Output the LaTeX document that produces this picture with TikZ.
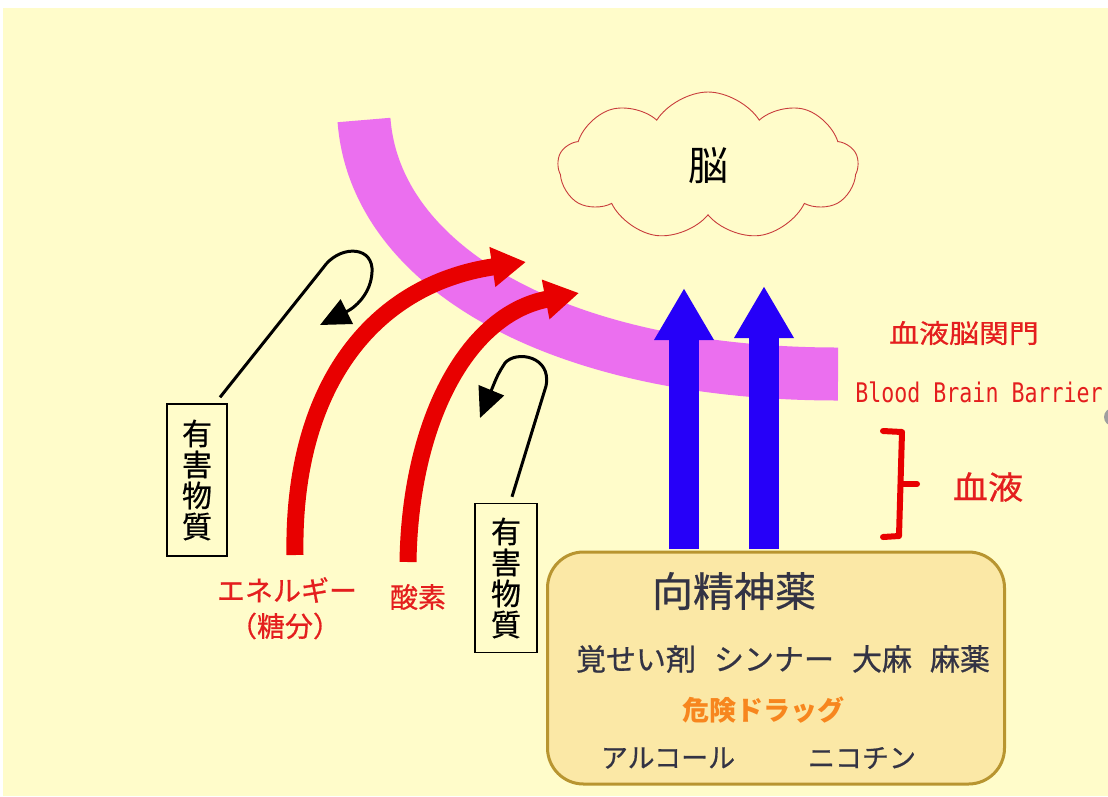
\documentclass[tikz,border=0pt]{standalone}
\usepackage{fontspec}
\usepackage{graphicx}
\usetikzlibrary{arrows.meta,shapes.symbols}
\newfontfamily\cjk{Noto Sans CJK JP}
\newfontfamily\cjkm{Noto Sans CJK JP}[FakeBold=0.6]
\newfontfamily\monofnt{DejaVu Sans Mono}
\definecolor{bgc}{HTML}{FFFCCA}
\definecolor{bandc}{HTML}{EB6FEF}
\definecolor{arrred}{HTML}{E80000}
\definecolor{labred}{HTML}{E41E1E}
\definecolor{arrblue}{HTML}{2600F8}
\definecolor{boxfill}{HTML}{FBE8A6}
\definecolor{boxline}{HTML}{B89530}
\definecolor{darktxt}{HTML}{333344}
\definecolor{orangetxt}{HTML}{F7861E}
\definecolor{cloudline}{HTML}{C83C3C}
\begin{document}
\begin{tikzpicture}[x=1pt,y=-1pt,
  cloudshape/.style={cloud, cloud puffs=9, cloud puff arc=115, aspect=2,
    draw=cloudline, line width=0.9pt, minimum width=300pt, minimum height=148pt,
    inner sep=0pt, font=\cjk\fontsize{40}{44}\selectfont, text=black},
  bluearr/.style={arrblue, line width=30pt, -{Triangle[width=56pt,length=52pt]}},
  redarr/.style={arrred, line width=17pt, -{Triangle[width=38pt,length=34pt]}},
  loopline/.style={black, line width=3pt, -{Triangle[width=27pt,length=30pt]}},
  harm/.style={draw=black, line width=1.4pt, minimum width=60pt, align=center,
    inner sep=0pt, font=\cjkm\fontsize{30}{31}\selectfont, text=black},
  redlab/.style={text=labred, inner sep=0pt, font=\cjkm\fontsize{28}{31}\selectfont},
  drugbox/.style={draw=boxline, fill=boxfill, line width=3pt, rounded corners=36pt,
    minimum width=457pt, minimum height=232pt},
  drugtxt/.style={text=darktxt, inner sep=0pt, font=\cjkm\fontsize{27}{30}\selectfont}
]
\useasboundingbox (0,0) rectangle (1108,796);
\fill[white] (0,0) rectangle (1108,796);
\fill[bgc] (3,8) rectangle (1108,796);
\fill[gray!75] (1113,417) circle (9);

% blood brain barrier band
\draw[bandc, line width=53pt] (364,120) .. controls (375,268) and (560,374) .. (838,374);

% brain
\node[cloudshape] (brain) at (708,166) {脳};

% bottom box
\node[drugbox] (drug) at (776,668) {};
\node[drugtxt, font=\cjkm\fontsize{41}{44}\selectfont] (title) at (734,591) {向精神薬};
\node[drugtxt, font=\cjkm\fontsize{30}{33}\selectfont] (list) at (783,659)
  {覚せい剤\hspace{18pt}シンナー\hspace{18pt}大麻\hspace{18pt}麻薬};
\node[drugtxt, text=orangetxt, font=\cjk\bfseries\fontsize{27}{30}\selectfont] (kiken) at (763,710) {危険ドラッグ};
\node[drugtxt] (alc) at (668,758) {アルコール};
\node[drugtxt] (nico) at (862,758) {ニコチン};

% blue arrows
\coordinate (b1s) at (684,549);
\coordinate (b1e) at (684,288);
\coordinate (b2s) at (764,549);
\coordinate (b2e) at (764,286);
\draw[bluearr] (b1s) -- (b1e);
\draw[bluearr] (b2s) -- (b2e);

% harmful substance boxes
\node[harm, minimum height=152pt] (h1) at (197,480) {有\\害\\物\\質};
\node[harm, minimum height=149pt, minimum width=62pt] (h2) at (506,578) {有\\害\\物\\質};

% red arrows
\coordinate (r1s) at (295,555);
\coordinate (r1e) at (526,262);
\coordinate (r2s) at (408,562);
\coordinate (r2e) at (579,293);
\draw[redarr] (r1s) .. controls (292,390) and (370,285) .. (r1e);
\draw[redarr] (r2s) .. controls (410,425) and (465,315) .. (r2e);

% black loop arrows
\coordinate (l1e) at (320,325);
\coordinate (l2e) at (480,418);
\draw[loopline] ([xshift=23pt,yshift=6pt]h1.north) -- (323,268)
  .. controls (338,246) and (370,245) .. (372,268)
  .. controls (373,290) and (358,306) .. (l1e);
\draw[loopline] ([xshift=6pt,yshift=6pt]h2.north) -- (546,386)
  .. controls (552,356) and (516,350) .. (505,363)
  .. controls (498,374) .. (l2e);

% labels
\node[redlab] (energy) at (287,590) {エネルギー};
\node[redlab] (tobun) at (285,626) {（糖分）};
\node[redlab] (sanso) at (418,597) {酸素};
\node[redlab, font=\cjkm\fontsize{26}{29}\selectfont] (bbbjp) at (964,333) {\scalebox{1.15}[1]{血液脳関門}};
\node[redlab, font=\monofnt\fontsize{27}{30}\selectfont] (bbben) at (979,392) {\scalebox{0.8}[1]{Blood Brain Barrier}};
\node[redlab, font=\cjkm\fontsize{32}{35}\selectfont] (blood) at (988,487) {\scalebox{1.1}[1]{血液}};

% brace
\draw[arrred, line width=6pt, line cap=round, line join=round]
  (883,431) -- (902,432) -- (899,536) -- (883,537);
\draw[arrred, line width=6pt, line cap=round] (901,484) -- (917,484);
\end{tikzpicture}
\end{document}
